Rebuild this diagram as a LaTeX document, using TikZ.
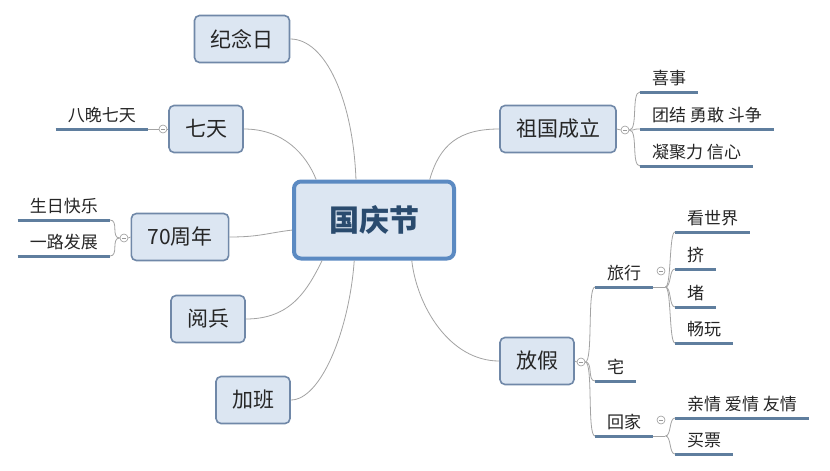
\documentclass[tikz,border=0pt]{standalone}
\usepackage{fontspec}
\setmainfont{Noto Sans CJK SC}
\definecolor{boxfill}{HTML}{DCE6F2}
\definecolor{boxline}{HTML}{7088A8}
\definecolor{rootline}{HTML}{5B8AC2}
\definecolor{roottext}{HTML}{2A4B6E}
\definecolor{barcol}{HTML}{5F7E9E}
\definecolor{linkgray}{HTML}{A3A3A3}
\tikzset{topic/.style = {draw=boxline, line width=1.6pt, fill=boxfill, rounded corners=5pt, minimum height=47pt, inner xsep=16pt, font=\fontsize{21}{25}\selectfont, text=black!85},
         root/.style = {draw=rootline, line width=4pt, fill=boxfill, rounded corners=7pt, minimum width=160pt, minimum height=77pt, font=\fontsize{30}{36}\selectfont\bfseries, text=roottext},
         leaf/.style = {inner xsep=12pt, inner ysep=6pt, font=\fontsize{17}{20}\selectfont, text=black!85},
         leafbar/.style = {draw=barcol, line width=3pt},
         link/.style = {draw=linkgray, line width=0.8pt},
         toggle/.style = {circle, draw=gray!80, fill=white, line width=0.6pt, minimum size=8pt, inner sep=0pt,
                          path picture={\draw[gray!80, line width=0.6pt] ([xshift=-2pt]path picture bounding box.center) -- ([xshift=2pt]path picture bounding box.center);}}}

\begin{document}
\begin{tikzpicture}[x=1pt, y=-1pt]
\fill[white] (0,0) rectangle (830,471);
\useasboundingbox (0,0) rectangle (830,471);
\node[root] (gqj) at (374,220) {国庆节};
\node[topic] (jnr) at (242,39) {纪念日};
\node[topic] (qt) at (206,129) {七天};
\node[topic] (zn) at (180,237) {70周年};
\node[topic] (yb) at (208,319) {阅兵};
\node[topic] (jb) at (253,400) {加班};
\node[topic] (zgcl) at (558,129) {祖国成立};
\node[topic] (fj) at (537,361) {放假};
\node[leaf, anchor=south east] (bwqt) at (148,129) {八晚七天};
\node[leaf, anchor=south east] (srkl) at (110,220) {生日快乐};
\node[leaf, anchor=south east] (ylfz) at (110,256) {一路发展};
\node[leaf, anchor=south west] (xs) at (640,92) {喜事};
\node[leaf, anchor=south west] (tjyg) at (640,129) {团结 勇敢 斗争};
\node[leaf, anchor=south west] (njl) at (640,166) {凝聚力 信心};
\node[leaf, anchor=south west] (lx) at (595,287) {旅行};
\node[leaf, anchor=south west] (zhai) at (595,381) {宅};
\node[leaf, anchor=south west] (hj) at (595,436) {回家};
\node[leaf, anchor=south west] (ksj) at (675,232) {看世界};
\node[leaf, anchor=south west] (ji) at (675,269) {挤};
\node[leaf, anchor=south west] (du) at (675,307) {堵};
\node[leaf, anchor=south west] (cw) at (675,343) {畅玩};
\node[leaf, anchor=south west] (qq) at (675,418) {亲情 爱情 友情};
\node[leaf, anchor=south west] (mp) at (675,454) {买票};
\coordinate (lxe) at ([xshift=12pt]lx.south east);
\coordinate (hje) at ([xshift=12pt]hj.south east);
\draw[link] (jnr.east) .. controls +(35,0) and +(-3,-80) .. (gqj.114);
\draw[link] (qt.east) .. controls +(40,0) and +(-10,-25) .. (gqj.145);
\draw[link] (zn.east) .. controls +(30,0) and +(-25,3) .. (gqj.187);
\draw[link] (yb.east) .. controls +(45,0) and +(-15,30) .. (gqj.218);
\draw[link] (jb.east) .. controls +(30,0) and +(-5,70) .. (gqj.244);
\draw[link] (zgcl.west) .. controls +(-40,0) and +(10,-35) .. (gqj.36);
\draw[link] (fj.west) .. controls +(-50,0) and +(5,45) .. (gqj.313);
\node[toggle] (tqt) at (163,129) {};
\node[toggle] (tzn) at (124,238) {};
\node[toggle] (tzgcl) at (625,130) {};
\node[toggle] (tfj) at (581,362) {};
\node[toggle] (tlx) at (661,271) {};
\node[toggle] (thj) at (661,420) {};
\draw[link] (qt.west) -- (tqt.east);
\draw[link] (tqt.west) -- (bwqt.south east);
\draw[link] (zn.west) -- (tzn.east);
\foreach \n in {srkl,ylfz} \draw[link] (tzn.west) .. controls +(-9,0) and +(9,0) .. (\n.south east);
\draw[link] (zgcl.east) -- (tzgcl.west);
\foreach \n in {xs,tjyg,njl} \draw[link] (tzgcl.east) .. controls +(9,0) and +(-9,0) .. (\n.south west);
\draw[link] (fj.east) -- (tfj.west);
\foreach \n in {lx,zhai,hj} \draw[link] (tfj.east) .. controls +(8,0) and +(-8,0) .. (\n.south west);
\draw[link] (lx.south east) -- (lxe);
\foreach \n in {ksj,ji,du,cw} \draw[link] (lxe) .. controls +(6,0) and +(-6,0) .. (\n.south west);
\draw[link] (hj.south east) -- (hje);
\foreach \n in {qq,mp} \draw[link] (hje) .. controls +(6,0) and +(-6,0) .. (\n.south west);
\foreach \n in {bwqt,srkl,ylfz,xs,tjyg,njl,lx,zhai,hj,ksj,ji,du,cw,qq,mp} \draw[leafbar] (\n.south west) -- (\n.south east);
\end{tikzpicture}
\end{document}
